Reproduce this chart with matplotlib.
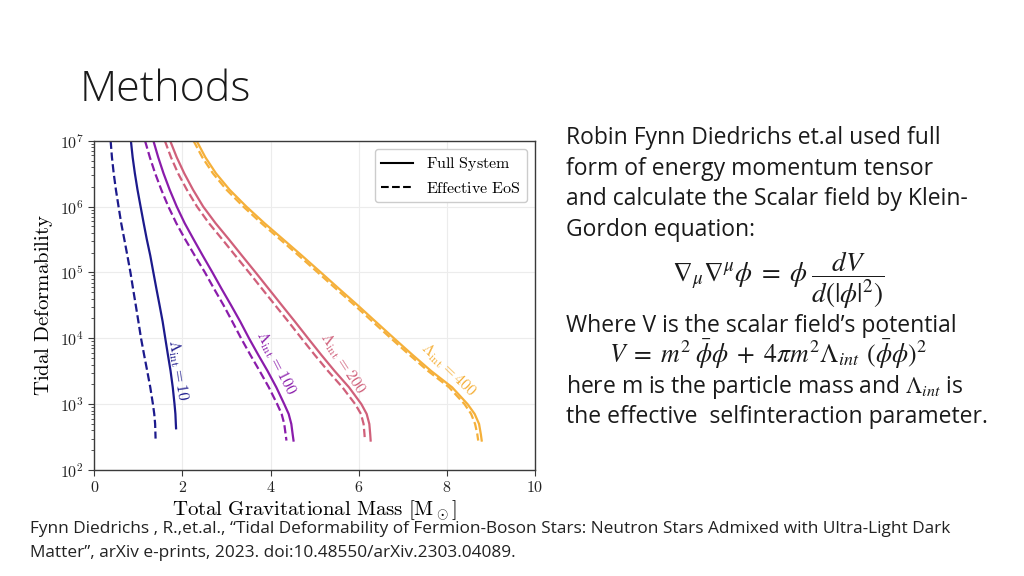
import matplotlib
matplotlib.use("Agg")
import matplotlib.pyplot as plt
import matplotlib as mpl
from matplotlib.lines import Line2D
from matplotlib.ticker import FuncFormatter
import numpy as np

mpl.rcParams.update(
    {
        "mathtext.fontset": "cm",
        "axes.edgecolor": "#3a3a3a",
        "axes.linewidth": 1.0,
        "xtick.color": "#3a3a3a",
        "ytick.color": "#3a3a3a",
        "xtick.labelcolor": "#222222",
        "ytick.labelcolor": "#222222",
        "figure.facecolor": "white",
    }
)

BODY_FONT = ["Open Sans", "DejaVu Sans"]

# values (mass in solar masses, tidal deformability)
lambda_int = [10, 100, 200, 400]
colours = ["#1c1a8c", "#8a1cab", "#d0607a", "#f5b03a"]

tidal_grid = [1e7, 5.6e6, 3.2e6, 1.8e6, 1e6, 5.6e5, 3.2e5, 1.8e5, 1e5, 5.6e4,
              3.2e4, 1.8e4, 1e4, 5.6e3, 3.2e3, 1.8e3, 1e3, 7.1e2, 5.0e2,
              3.5e2, 2.8e2]
tidal_10_full = [1e7, 5.6e6, 3.2e6, 1.8e6, 1e6, 5.6e5, 3.2e5, 1.8e5, 1e5, 5.6e4,
                 3.2e4, 1.8e4, 1e4, 5.6e3, 3.2e3, 1.8e3, 1e3, 7.1e2, 5.0e2, 4.3e2]
tidal_10_eff = [1e7, 5.6e6, 3.2e6, 1.8e6, 1e6, 5.6e5, 3.2e5, 1.8e5, 1e5, 5.6e4,
                3.2e4, 1.8e4, 1e4, 5.6e3, 3.2e3, 1.8e3, 1e3, 7.1e2, 5.0e2, 3.0e2]

mass_10_full = [0.83, 0.87, 0.92, 0.98, 1.05, 1.12, 1.19, 1.27, 1.34, 1.41,
                1.48, 1.55, 1.61, 1.67, 1.73, 1.78, 1.82, 1.84, 1.85, 1.855]
mass_10_eff = [0.37, 0.40, 0.44, 0.49, 0.55, 0.61, 0.68, 0.75, 0.82, 0.88,
               0.94, 1.00, 1.06, 1.13, 1.20, 1.27, 1.33, 1.36, 1.38, 1.39]
mass_100_full = [1.34, 1.45, 1.57, 1.71, 1.87, 2.05, 2.25, 2.46, 2.68, 2.89,
                 3.10, 3.31, 3.51, 3.72, 3.93, 4.13, 4.31, 4.41, 4.47, 4.50, 4.52]
mass_100_eff = [1.15, 1.26, 1.38, 1.52, 1.68, 1.86, 2.06, 2.28, 2.51, 2.72,
                2.93, 3.13, 3.33, 3.54, 3.75, 3.96, 4.15, 4.25, 4.31, 4.34, 4.36]
mass_200_full = [1.72, 1.87, 2.04, 2.24, 2.47, 2.75, 3.05, 3.35, 3.66, 3.96,
                 4.25, 4.55, 4.85, 5.15, 5.45, 5.78, 6.06, 6.18, 6.24, 6.26, 6.27]
mass_200_eff = [1.60, 1.74, 1.90, 2.10, 2.33, 2.60, 2.90, 3.20, 3.51, 3.81,
                4.10, 4.40, 4.70, 5.00, 5.30, 5.63, 5.92, 6.05, 6.11, 6.13, 6.14]
mass_400_full = [2.32, 2.52, 2.76, 3.07, 3.45, 3.86, 4.28, 4.71, 5.14, 5.56,
                 5.97, 6.38, 6.80, 7.22, 7.64, 8.12, 8.47, 8.63, 8.73, 8.77, 8.79]
mass_400_eff = [2.25, 2.45, 2.69, 3.00, 3.38, 3.79, 4.21, 4.64, 5.07, 5.49,
                5.90, 6.31, 6.73, 7.15, 7.57, 8.05, 8.40, 8.55, 8.64, 8.69, 8.71]

# curve label anchor (mass, tidal) and angle
label_mass = [1.90, 4.11, 5.64, 8.03]
label_tidal = [3300, 4200, 4200, 3300]
label_angle = [-81, -63, -57, -44]

curves_full = [
    (mass_10_full, tidal_10_full),
    (mass_100_full, tidal_grid),
    (mass_200_full, tidal_grid),
    (mass_400_full, tidal_grid),
]
curves_eff = [
    (mass_10_eff, tidal_10_eff),
    (mass_100_eff, tidal_grid),
    (mass_200_eff, tidal_grid),
    (mass_400_eff, tidal_grid),
]

fig = plt.figure(figsize=(10.24, 5.76), dpi=100)
ax = fig.add_axes([0.0921, 0.184, 0.4304, 0.5717])

for i, lam in enumerate(lambda_int):
    m, t = curves_full[i]
    ax.plot(m, t, color=colours[i], lw=1.6, ls="-")
    m, t = curves_eff[i]
    ax.plot(m, t, color=colours[i], lw=1.6, ls="--")
    ax.text(
        label_mass[i],
        label_tidal[i],
        r"$\Lambda_\mathrm{int} = %d$" % lam,
        color=colours[i],
        fontsize=11.5,
        rotation=label_angle[i],
        rotation_mode="anchor",
        ha="center",
        va="center",
    )

ax.set_yscale("log")
ax.set_xlim(0, 10)
ax.set_ylim(1e2, 1e7)
ax.set_xticks([0, 2, 4, 6, 8, 10])
ax.xaxis.set_major_formatter(FuncFormatter(lambda v, p: r"$%d$" % v))
ax.yaxis.set_major_formatter(
    FuncFormatter(lambda v, p: r"$10^{%d}$" % round(np.log10(v)))
)
ax.tick_params(axis="both", which="major", labelsize=11.5, length=4)
ax.tick_params(axis="y", which="minor", length=2)
ax.grid(True, which="major", color="#ececec", lw=0.8)
ax.set_axisbelow(True)

ax.set_xlabel(r"$\mathrm{Total\ Gravitational\ Mass\ [M_\odot]}$", fontsize=15)
ax.set_ylabel(r"$\mathrm{Tidal\ Deformability}$", fontsize=15)
ax.xaxis.set_label_coords(0.5, -0.085)
ax.yaxis.set_label_coords(-0.089, 0.5)

handles = [
    Line2D([], [], color="black", lw=1.5, ls="-"),
    Line2D([], [], color="black", lw=1.5, ls="--"),
]
leg = ax.legend(
    handles,
    [r"$\mathrm{Full\ System}$", r"$\mathrm{Effective\ EoS}$"],
    loc="upper right",
    fontsize=11.5,
    edgecolor="#cccccc",
    framealpha=1.0,
)

# slide text
W, H = 1024, 576
fig.text(80 / W, 1 - 101 / H, "Methods", fontsize=31, fontweight="light",
         family=BODY_FONT, color="#1a1a1a", va="baseline")

body_lines = [
    ("Robin Fynn Diedrichs et.al used full", 144),
    ("form of energy momentum tensor", 175),
    ("and calculate the Scalar field by Klein-", 205),
    ("Gordon equation:", 236),
    ("Where V is the scalar field\u2019s potential", 332),
    (r"here m is the particle mass and $\Lambda_{int}$ is", 393),
    ("the effective  selfinteraction parameter.", 423),
]
for txt, base in body_lines:
    fig.text(566 / W, 1 - base / H, txt, fontsize=16.5, family=BODY_FONT,
             color="#1a1a1a", va="baseline", math_fontfamily="stix")

fig.text(672 / W, 1 - 282 / H,
         r"$\nabla_\mu \nabla^\mu \phi \;=\; \phi\;\dfrac{dV}{d(|\phi|^2)}$",
         fontsize=19.5, color="#1a1a1a", va="baseline", math_fontfamily="stix")
fig.text(609 / W, 1 - 363 / H,
         r"$V \;=\; m^2\;\bar{\phi}\phi \;+\; 4\pi m^2\Lambda_{int}\;\,(\bar{\phi}\phi)^2$",
         fontsize=18.5, color="#1a1a1a", va="baseline", math_fontfamily="stix")

citation = [
    ("Fynn Diedrichs , R.,et.al., \u201cTidal Deformability of Fermion-Boson Stars: "
     "Neutron Stars Admixed with Ultra-Light Dark", 533),
    ("Matter\u201d, arXiv e-prints, 2023. doi:10.48550/arXiv.2303.04089.", 557),
]
for txt, base in citation:
    fig.text(30 / W, 1 - base / H, txt, fontsize=12.4, family=BODY_FONT,
             color="#222222", va="baseline")

fig.savefig("out.png", dpi=100)
